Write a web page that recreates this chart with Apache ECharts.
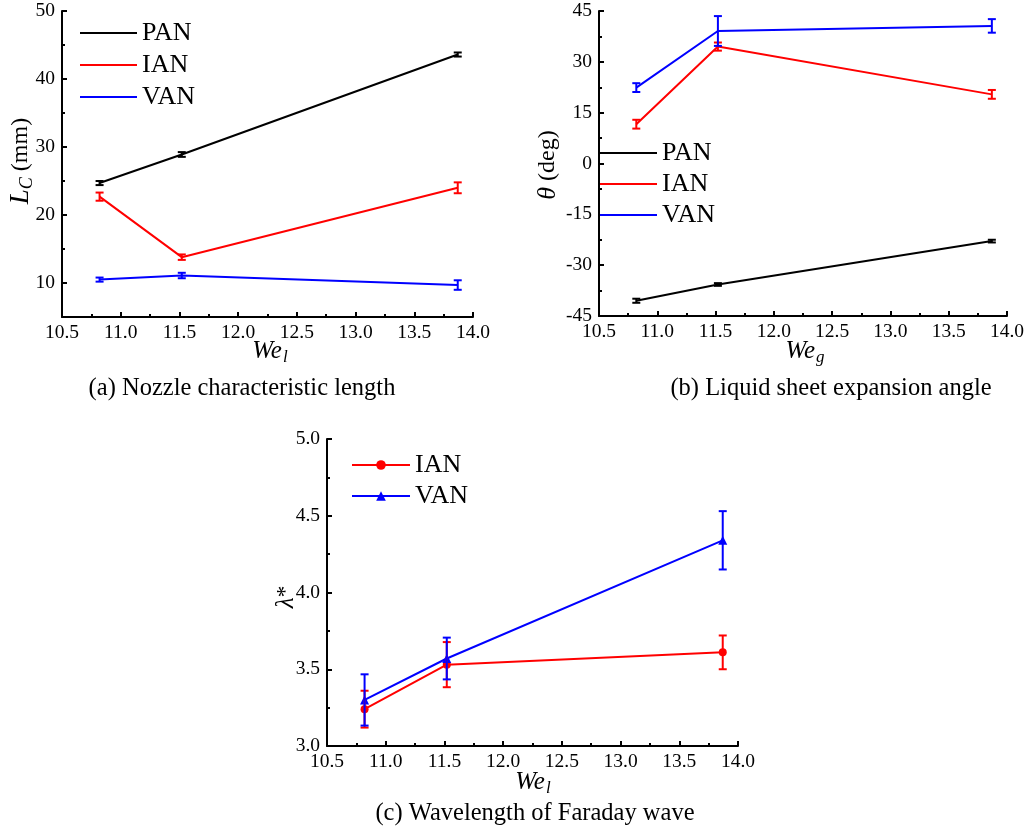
<!DOCTYPE html>
<html>
<head>
<meta charset="utf-8">
<script src="https://cdn.jsdelivr.net/npm/echarts@6/dist/echarts.min.js"></script>
<style>
  html, body { margin: 0; padding: 0; background: #fff; }
  #chart { width: 1033px; height: 832px; }
</style>
</head>
<body>
<div id="chart"></div>
<script>
// Weber numbers of the three operating points
const weValues = [10.82, 11.52, 13.87];

// (a) nozzle characteristic length Lc (mm) and its error
const lcPAN = [24.7, 28.9, 43.6];
const lcPANErr = [0.3, 0.35, 0.3];
const lcIAN = [22.7, 13.8, 24.0];
const lcIANErr = [0.6, 0.4, 0.8];
const lcVAN = [10.5, 11.1, 9.7];
const lcVANErr = [0.3, 0.4, 0.7];

// (b) liquid sheet expansion angle theta (deg) and its error
const thPAN = [-40.5, -35.7, -22.9];
const thPANErr = [0.6, 0.4, 0.4];
const thIAN = [11.6, 34.5, 20.4];
const thIANErr = [1.3, 1.2, 1.3];
const thVAN = [22.4, 39.1, 40.6];
const thVANErr = [1.3, 4.4, 2.0];

// (c) dimensionless Faraday wavelength and its error
const lamIAN = [3.24, 3.53, 3.61];
const lamIANErr = [0.12, 0.147, 0.11];
const lamVAN = [3.30, 3.57, 4.34];
const lamVANErr = [0.167, 0.136, 0.19];

// axis tick values
const lcMajorTicks = [10, 20, 30, 40, 50];
const lcMinorTicks = [15, 25, 35, 45];

const BLACK = '#000000', RED = '#ff0000', BLUE = '#0000ff';
const SERIF = '"Liberation Serif", "Times New Roman", serif';

const pairs = (ys) => weValues.map((x, i) => [x, ys[i]]);
const ranges = (ys, es) => weValues.map((x, i) => [x, ys[i] - es[i], ys[i] + es[i]]);

function errorBar(params, api) {
  const x = api.value(0);
  const lo = api.coord([x, api.value(1)]);
  const hi = api.coord([x, api.value(2)]);
  const c = api.visual('color');
  const w = 4;
  const st = { stroke: c, lineWidth: 2 };
  return {
    type: 'group',
    children: [
      { type: 'line', shape: { x1: hi[0], y1: hi[1], x2: lo[0], y2: lo[1] }, style: st },
      { type: 'line', shape: { x1: hi[0] - w, y1: hi[1], x2: hi[0] + w, y2: hi[1] }, style: st },
      { type: 'line', shape: { x1: lo[0] - w, y1: lo[1], x2: lo[0] + w, y2: lo[1] }, style: st }
    ]
  };
}

function lineSeries(name, grid, ys, color, symbol, size) {
  return {
    type: 'line', name, xAxisIndex: grid, yAxisIndex: grid,
    data: pairs(ys), color,
    symbol: symbol || 'none', symbolSize: size || 0,
    lineStyle: { width: 2, color },
    itemStyle: { color },
    z: 3
  };
}

function errSeries(name, grid, ys, es, color) {
  return {
    type: 'custom', name, xAxisIndex: grid, yAxisIndex: grid,
    renderItem: errorBar, data: ranges(ys, es),
    encode: { x: 0, y: [1, 2] },
    itemStyle: { color }, z: 4
  };
}

const axisLineStyle = { show: true, onZero: false, lineStyle: { color: BLACK, width: 2 } };
const labelStyle = { color: BLACK, fontFamily: SERIF, fontSize: 19.5 };

function weAxis(grid) {
  return {
    type: 'value', gridIndex: grid, min: 10.5, max: 14, interval: 0.5,
    axisLine: axisLineStyle,
    axisTick: { show: true, inside: true, length: 5, lineStyle: { color: BLACK, width: 2 } },
    minorTick: { show: true, splitNumber: 2, length: 3, lineStyle: { color: BLACK, width: 2 } },
    axisLabel: Object.assign({ margin: 6, formatter: (v) => v.toFixed(1) }, labelStyle),
    splitLine: { show: false }
  };
}

const legendText = { color: BLACK, fontFamily: SERIF, fontSize: 26, lineHeight: 26 };

function subscriptName(x, y, sub) {
  return {
    type: 'text', x, y,
    style: {
      text: '{i|We}{s|' + sub + '}', align: 'center', verticalAlign: 'middle', fill: BLACK,
      rich: {
        i: { fontFamily: SERIF, fontStyle: 'italic', fontSize: 25, fill: BLACK },
        s: { fontFamily: SERIF, fontStyle: 'italic', fontSize: 17, padding: [13, 0, 0, 1], fill: BLACK }
      }
    }
  };
}

function caption(x, y, text) {
  return {
    type: 'text', x, y,
    style: { text, align: 'center', verticalAlign: 'middle', fill: BLACK, font: '24.5px ' + SERIF }
  };
}

const chart = echarts.init(document.getElementById('chart'), null, { renderer: 'canvas' });

const option = {
  animation: false,
  backgroundColor: '#ffffff',
  grid: [
    { left: 62, top: 11, width: 411, height: 306 },
    { left: 599, top: 11, width: 408, height: 305 },
    { left: 327, top: 439, width: 411, height: 307 }
  ],
  xAxis: [weAxis(0), weAxis(1), weAxis(2)],
  yAxis: [
    {
      type: 'value', gridIndex: 0, min: 5, max: 50, interval: 5, position: 'left',
      axisLine: axisLineStyle,
      axisTick: { show: true, inside: true, length: 5, customValues: lcMajorTicks, lineStyle: { color: BLACK, width: 2 } },
      axisLabel: Object.assign({ margin: 7, customValues: lcMajorTicks, formatter: (v) => (v % 10 === 0 ? String(v) : '') }, labelStyle),
      splitLine: { show: false }
    },
    {
      type: 'value', gridIndex: 1, min: -45, max: 45, interval: 15,
      axisLine: axisLineStyle,
      axisTick: { show: true, inside: true, length: 5, lineStyle: { color: BLACK, width: 2 } },
      minorTick: { show: true, splitNumber: 2, length: 3, lineStyle: { color: BLACK, width: 2 } },
      axisLabel: Object.assign({ margin: 7 }, labelStyle),
      splitLine: { show: false }
    },
    {
      type: 'value', gridIndex: 2, min: 3, max: 5, interval: 0.5,
      axisLine: axisLineStyle,
      axisTick: { show: true, inside: true, length: 5, lineStyle: { color: BLACK, width: 2 } },
      minorTick: { show: true, splitNumber: 2, length: 3, lineStyle: { color: BLACK, width: 2 } },
      axisLabel: Object.assign({ margin: 7, formatter: (v) => v.toFixed(1) }, labelStyle),
      splitLine: { show: false }
    },
    {
      // minor ticks of the Lc axis
      type: 'value', gridIndex: 0, min: 5, max: 50, interval: 5, position: 'left', offset: 0,
      axisLine: { show: false },
      axisTick: { show: true, inside: true, length: 3, customValues: lcMinorTicks, lineStyle: { color: BLACK, width: 2 } },
      axisLabel: { show: false },
      splitLine: { show: false }
    }
  ],
  legend: [
    {
      left: 80, top: 20, padding: 0, orient: 'vertical', itemWidth: 57, itemHeight: 2, itemGap: 6,
      icon: 'rect',
      data: ['PAN', 'IAN', 'VAN'], selectedMode: false,
      textStyle: legendText
    },
    {
      left: 600, top: 140, padding: 0, orient: 'vertical', itemWidth: 57, itemHeight: 2, itemGap: 5,
      icon: 'rect',
      data: ['PAN', 'IAN', 'VAN'], selectedMode: false,
      textStyle: legendText
    },
    {
      left: 351, top: 452, padding: 0, orient: 'vertical', itemWidth: 58, itemHeight: 12, itemGap: 5,
      data: ['λ IAN', 'λ VAN'], selectedMode: false,
      formatter: (n) => n.replace('λ ', ''),
      textStyle: legendText
    }
  ],
  series: [
    lineSeries('PAN', 0, lcPAN, BLACK),
    lineSeries('IAN', 0, lcIAN, RED),
    lineSeries('VAN', 0, lcVAN, BLUE),
    errSeries('PAN err', 0, lcPAN, lcPANErr, BLACK),
    errSeries('IAN err', 0, lcIAN, lcIANErr, RED),
    errSeries('VAN err', 0, lcVAN, lcVANErr, BLUE),

    lineSeries('PAN', 1, thPAN, BLACK),
    lineSeries('IAN', 1, thIAN, RED),
    lineSeries('VAN', 1, thVAN, BLUE),
    errSeries('PAN err', 1, thPAN, thPANErr, BLACK),
    errSeries('IAN err', 1, thIAN, thIANErr, RED),
    errSeries('VAN err', 1, thVAN, thVANErr, BLUE),

    lineSeries('λ IAN', 2, lamIAN, RED, 'circle', 8),
    lineSeries('λ VAN', 2, lamVAN, BLUE, 'triangle', 9),
    errSeries('λ IAN err', 2, lamIAN, lamIANErr, RED),
    errSeries('λ VAN err', 2, lamVAN, lamVANErr, BLUE)
  ],
  graphic: [
    // axis names
    subscriptName(270, 351, 'l'),
    subscriptName(805, 351, 'g'),
    subscriptName(533, 782, 'l'),
    {
      type: 'text', x: 21, y: 161, rotation: Math.PI / 2,
      style: {
        text: '{i|L}{s|C}{n| (mm)}', align: 'center', verticalAlign: 'middle', fill: BLACK,
        rich: {
          i: { fontFamily: SERIF, fontStyle: 'italic', fontSize: 27, fill: BLACK },
          s: { fontFamily: SERIF, fontStyle: 'italic', fontSize: 18, padding: [13, 0, 0, 0], fill: BLACK },
          n: { fontFamily: SERIF, fontSize: 24, fill: BLACK }
        }
      }
    },
    {
      type: 'text', x: 548, y: 165, rotation: Math.PI / 2,
      style: {
        text: '{i|θ}{n| (deg)}', align: 'center', verticalAlign: 'middle', fill: BLACK,
        rich: {
          i: { fontFamily: SERIF, fontStyle: 'italic', fontSize: 26, fill: BLACK },
          n: { fontFamily: SERIF, fontSize: 24, fill: BLACK }
        }
      }
    },
    {
      type: 'text', x: 286, y: 597, rotation: Math.PI / 2,
      style: {
        text: '{i|λ}{n|*}', align: 'center', verticalAlign: 'middle', fill: BLACK,
        rich: {
          i: { fontFamily: SERIF, fontStyle: 'italic', fontSize: 25, fill: BLACK },
          n: { fontFamily: SERIF, fontSize: 23, fill: BLACK }
        }
      }
    },
    // panel captions
    caption(242, 389, '(a) Nozzle characteristic length'),
    caption(831, 389, '(b) Liquid sheet expansion angle'),
    caption(535, 814, '(c) Wavelength of Faraday wave')
  ]
};

chart.setOption(option);
</script>
</body>
</html>
